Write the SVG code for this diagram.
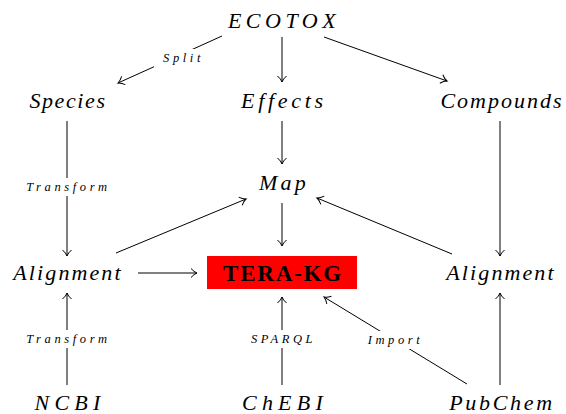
<svg xmlns="http://www.w3.org/2000/svg" width="566" height="414" viewBox="0 0 566 414">
<style>
.n{font-family:"Liberation Serif","DejaVu Serif",serif;font-style:italic;font-size:22px;text-anchor:middle;fill:#000}
.l{font-family:"Liberation Serif","DejaVu Serif",serif;font-style:italic;font-size:12.5px;text-anchor:middle;fill:#000;letter-spacing:3.6px}
.e{stroke:#000;stroke-width:1;fill:none;marker-end:url(#ah)}
.lb{fill:#fff;stroke:none}
</style>
<defs>
<marker id="ah" markerWidth="12" markerHeight="12" refX="9" refY="6" orient="auto" markerUnits="userSpaceOnUse">
<path d="M3,1.5 Q6,5 9,6 Q6,7 3,10.5" fill="none" stroke="#000" stroke-width="1"/>
</marker>
</defs>
<rect width="566" height="414" fill="#fff"/>
<g id="connectors">
<path class="e" d="M222,36 L118,83"/>
<path class="e" d="M282,37 L282,82"/>
<path class="e" d="M324,37 L447,81"/>
<path class="e" d="M67,121 L67,256"/>
<path class="e" d="M282,121 L282,164"/>
<path class="e" d="M500,121 L500,256"/>
<path class="e" d="M282,203 L282,246"/>
<path class="e" d="M116,253 L246,199"/>
<path class="e" d="M452,254 L317,198"/>
<path class="e" d="M138,273 L197,273"/>
<path class="e" d="M67,385 L67,293"/>
<path class="e" d="M282,385 L282,297"/>
<path class="e" d="M467,384 L324,297"/>
<path class="e" d="M500,385 L500,293"/>
<rect class="lb" x="154" y="49" width="56" height="18"/>
<text class="l" x="183.5" y="62">Split</text>
<rect class="lb" x="12" y="178" width="110" height="18"/>
<text class="l" x="68.5" y="191">Transform</text>
<rect class="lb" x="12" y="330" width="110" height="18"/>
<text class="l" x="68.5" y="343">Transform</text>
<rect class="lb" x="236" y="330" width="92" height="18"/>
<text class="l" x="283.5" y="343">SPARQL</text>
<rect class="lb" x="358" y="331" width="72" height="18"/>
<text class="l" x="395.5" y="344">Import</text>
</g>
<g id="ECOTOX"><text class="n" x="284" y="28" letter-spacing="4.5">ECOTOX</text></g>
<g id="Species"><text class="n" x="68" y="108" letter-spacing="1.6">Species</text></g>
<g id="Effects"><text class="n" x="284" y="108" letter-spacing="3.7">Effects</text></g>
<g id="Compounds"><text class="n" x="502" y="108" letter-spacing="2">Compounds</text></g>
<g id="Map"><text class="n" x="284" y="190" letter-spacing="3.3">Map</text></g>
<g id="AlignmentL"><text class="n" x="68" y="280" letter-spacing="2.1">Alignment</text></g>
<g id="TERAKG"><rect x="207" y="256" width="150" height="33" fill="#ff0000"/><text x="283" y="281" font-family="Liberation Serif, DejaVu Serif, serif" font-weight="bold" font-size="23" letter-spacing="1.8" text-anchor="middle" fill="#000">TERA-KG</text></g>
<g id="AlignmentR"><text class="n" x="501" y="280" letter-spacing="2.1">Alignment</text></g>
<g id="NCBI"><text class="n" x="70" y="410" letter-spacing="5.2">NCBI</text></g>
<g id="ChEBI"><text class="n" x="285" y="410" letter-spacing="5.2">ChEBI</text></g>
<g id="PubChem"><text class="n" x="502" y="410" letter-spacing="2.7">PubChem</text></g>
</svg>
